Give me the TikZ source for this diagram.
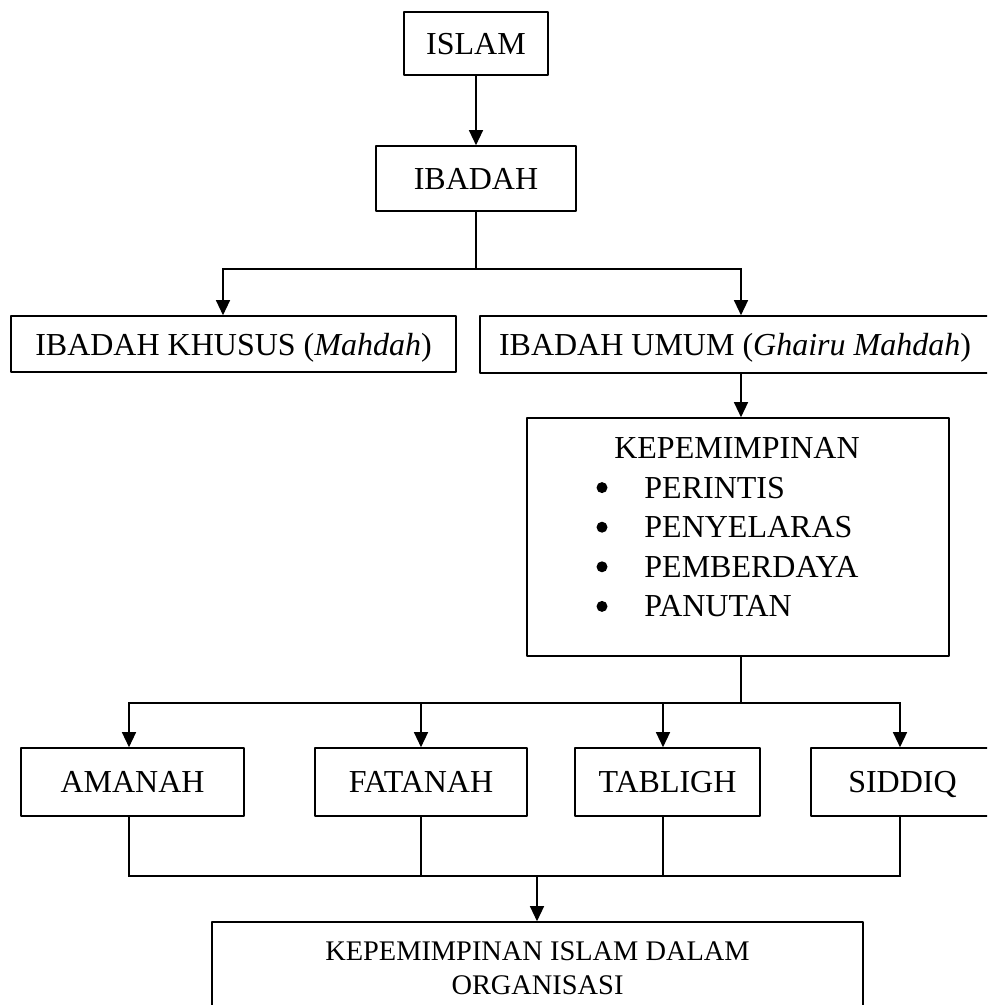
\documentclass[tikz,border=0pt]{standalone}
\usepackage{fontspec}
\setmainfont{Liberation Serif}
\usetikzlibrary{arrows.meta}
\begin{document}
\begin{tikzpicture}[x=0.5pt, y=-0.5pt, line join=round, >={Triangle[length=7.5pt,width=7pt]},
  box/.style={draw, line width=0.8pt, inner sep=0pt, text depth=0pt, font=\fontsize{16}{19}\selectfont},
  txt/.style={inner sep=0pt, font=\fontsize{16}{19}\selectfont},
  dot/.style={circle, fill, inner sep=0pt, minimum size=5.5pt},
  conn/.style={line width=0.65pt, line cap=rect}]
\useasboundingbox (0,0) rectangle (987,1005);
\clip (0,0) rectangle (987,1005);
% top part
\node[box, minimum width=72pt, minimum height=31.5pt] (islam) at (476,43.5) {ISLAM};
\node[box, minimum width=100pt, minimum height=32.5pt] (ibadah) at (476,178.5) {IBADAH};
\node[box, minimum width=222.5pt, minimum height=28pt] (khusus) at (233.5,344) {IBADAH KHUSUS (\textit{Mahdah})};
\node[box, minimum width=255pt, minimum height=28.5pt] (umum) at (735,344.5) {IBADAH UMUM (\textit{Ghairu Mahdah})};
\coordinate (j1) at (476,269);
\coordinate (k1) at (223,269);
\coordinate (u1) at (741,269);
\draw[conn,->] (islam) -- (ibadah);
\draw[conn] (ibadah) -- (j1);
\draw[conn] (k1) -- (u1);
\draw[conn,->] (k1) -- (k1 |- khusus.north);
\draw[conn,->] (u1) -- (u1 |- umum.north);
% kepemimpinan
\node[box, minimum width=211pt, minimum height=119pt] (kep) at (738,537) {};
\node[txt] (kept) at (737,448) {KEPEMIMPINAN};
\foreach \t [count=\i] in {PERINTIS,PENYELARAS,PEMBERDAYA,PANUTAN}{
  \pgfmathsetmacro\yy{448+39.6*\i}
  \node[dot] (dot\i) at (602,\yy) {};
  \node[txt, anchor=west] (item\i) at (644,\yy) {\t};
}
\draw[conn,->] (u1 |- umum.south) -- (u1 |- kep.north);
% sifat
\node[box, minimum width=111.5pt, minimum height=34pt] (amanah) at (132.5,782) {AMANAH};
\node[box, minimum width=106pt, minimum height=34pt] (fatanah) at (421,782) {FATANAH};
\node[box, minimum width=92.5pt, minimum height=34pt] (tabligh) at (667.5,782) {TABLIGH};
\node[box, minimum width=91.5pt, minimum height=34pt] (siddiq) at (902.5,782) {SIDDIQ};
\coordinate (j2) at (741,703);
\draw[conn] (u1 |- kep.south) -- (j2);
\coordinate (a1) at (129,703);
\coordinate (a2) at (421,703);
\coordinate (a3) at (663,703);
\coordinate (a4) at (900,703);
\draw[conn] (a1) -- (a4);
\foreach \n/\b in {a1/amanah,a2/fatanah,a3/tabligh,a4/siddiq}{
  \draw[conn,->] (\n) -- (\n |- \b.north);
}
% bottom
\node[box, minimum width=325.5pt, minimum height=46.5pt, align=center, font=\fontsize{14.2}{17}\selectfont] (org) at (537.5,968.5) {KEPEMIMPINAN ISLAM DALAM\\ORGANISASI};
\coordinate (m) at (537,876);
\draw[conn] (a1 |- m) -- (a4 |- m);
\foreach \n/\b in {a1/amanah,a2/fatanah,a3/tabligh,a4/siddiq}{
  \draw[conn] (\n |- \b.south) -- (\n |- m);
}
\draw[conn,->] (m) -- (m |- org.north);
\end{tikzpicture}
\end{document}
